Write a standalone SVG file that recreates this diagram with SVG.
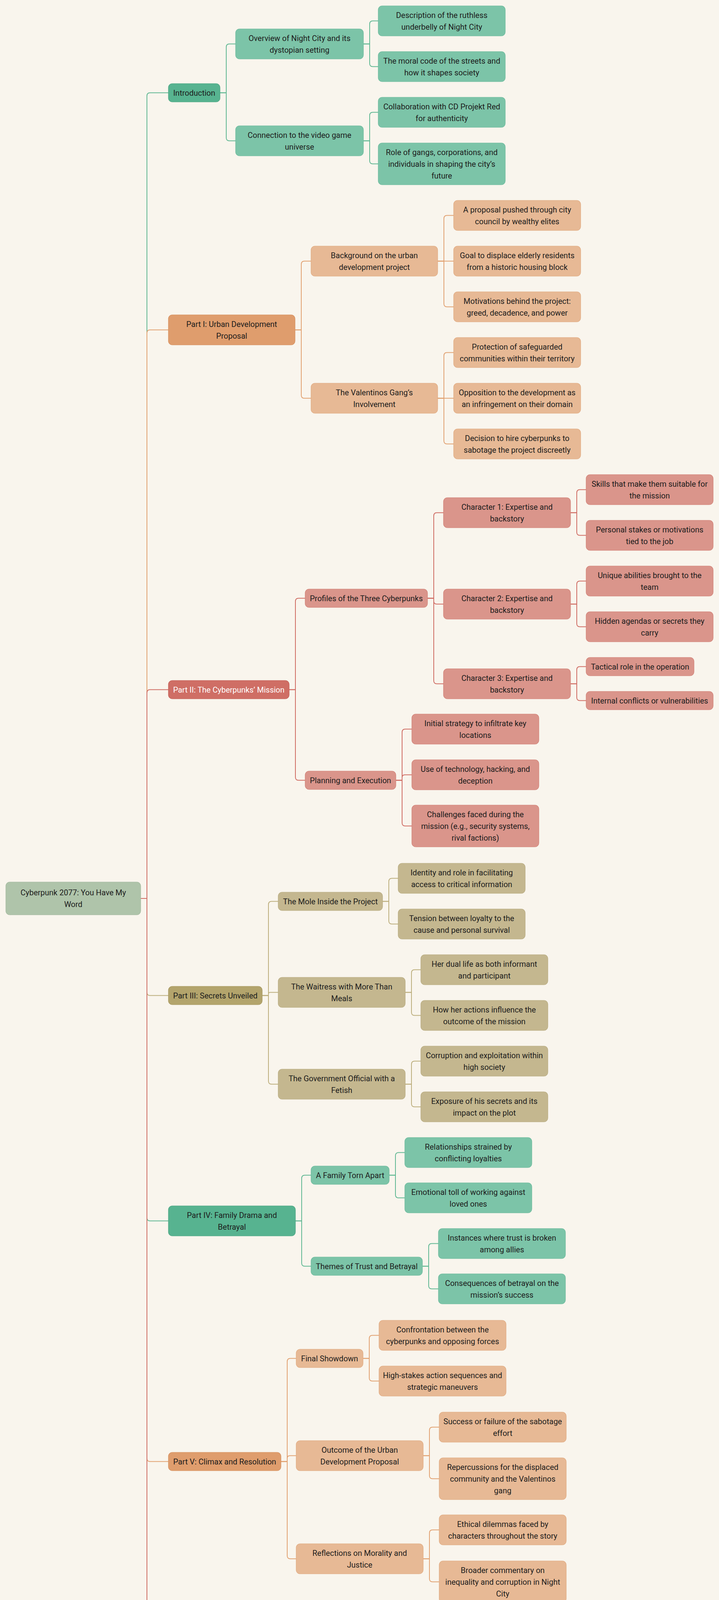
<svg xmlns="http://www.w3.org/2000/svg" width="1840" height="4615" viewBox="0 0 1840 4615">
<style>
.t{font-family:Roboto,"Liberation Sans",sans-serif;font-size:20px;fill:#1c1c1c;text-anchor:middle;dominant-baseline:central}
.tw{fill:#ffffff}
rect{stroke-width:1.2}
.root{fill:#afc4aa;stroke:#a2b89d}
.gm{fill:#57b390;stroke:#4ca582}
.gs{fill:#7cc4a8;stroke:#6cba9c}
.om{fill:#df9d6d;stroke:#d58f5e}
.os{fill:#e7b995;stroke:#e0aa80}
.rm{fill:#cf6e65;stroke:#c35f56}
.rs{fill:#da958b;stroke:#d18076}
.ym{fill:#b3a46c;stroke:#a79860}
.ys{fill:#c4b78f;stroke:#b8ab80}
.c path{fill:none;stroke-width:2}
.lg{stroke:#5fb792}
.lo{stroke:#e1a171}
.lr{stroke:#cf6c63}
.ly{stroke:#bcae7c}
</style>
<rect x="0" y="0" width="1840" height="4615" fill="#f9f5ed" stroke="none"/>
<g id="connectors" class="c">
<path class="lg" d="M360 2300H376V245.5Q376 237.5 384 237.5H431"/>
<path class="lo" d="M360 2300H376V852.5Q376 844.5 384 844.5H431"/>
<path class="lr" d="M360 2300H376V1773.5Q376 1765.5 384 1765.5H431"/>
<path class="ly" d="M360 2300H376V2540.5Q376 2548.5 384 2548.5H431"/>
<path class="lg" d="M360 2300H376V3117.5Q376 3125.5 384 3125.5H431"/>
<path class="lo" d="M360 2300H376V3733.5Q376 3741.5 384 3741.5H431"/>
<path class="lr" d="M360 2300H376V4352.5Q376 4360.5 384 4360.5H431"/>
<path class="lg" d="M563 237.5H579V120.5Q579 112.5 587 112.5H603"/>
<path class="lg" d="M563 237.5H579V352.5Q579 360.5 587 360.5H603"/>
<path class="lg" d="M930 112.5H946V61.5Q946 53.5 954 53.5H968"/>
<path class="lg" d="M930 112.5H946V162.5Q946 170.5 954 170.5H968"/>
<path class="lg" d="M930 360.5H946V295.5Q946 287.5 954 287.5H968"/>
<path class="lg" d="M930 360.5H946V411.5Q946 419.5 954 419.5H968"/>
<path class="lo" d="M755 844.5H771V676.5Q771 668.5 779 668.5H796"/>
<path class="lo" d="M755 844.5H771V1011.5Q771 1019.5 779 1019.5H796"/>
<path class="lo" d="M1120 668.5H1136V559.5Q1136 551.5 1144 551.5H1161"/>
<path class="lo" d="M1120 668.5H1161"/>
<path class="lo" d="M1120 668.5H1136V777.5Q1136 785.5 1144 785.5H1161"/>
<path class="lo" d="M1120 1019.5H1136V910.5Q1136 902.5 1144 902.5H1161"/>
<path class="lo" d="M1120 1019.5H1161"/>
<path class="lo" d="M1120 1019.5H1136V1128.5Q1136 1136.5 1144 1136.5H1161"/>
<path class="lr" d="M740 1765.5H756V1539.5Q756 1531.5 764 1531.5H781"/>
<path class="lr" d="M740 1765.5H756V1989.5Q756 1997.5 764 1997.5H781"/>
<path class="lr" d="M1094 1531.5H1110V1320.5Q1110 1312.5 1118 1312.5H1135"/>
<path class="lr" d="M1094 1531.5H1110V1539Q1110 1546.5 1117.5 1546.5H1135"/>
<path class="lr" d="M1094 1531.5H1110V1742.5Q1110 1750.5 1118 1750.5H1135"/>
<path class="lr" d="M1460 1312.5H1476V1261.5Q1476 1253.5 1484 1253.5H1500"/>
<path class="lr" d="M1460 1312.5H1476V1362.5Q1476 1370.5 1484 1370.5H1500"/>
<path class="lr" d="M1460 1546.5H1476V1495.5Q1476 1487.5 1484 1487.5H1500"/>
<path class="lr" d="M1460 1546.5H1476V1596.5Q1476 1604.5 1484 1604.5H1500"/>
<path class="lr" d="M1460 1750.5H1476V1714.5Q1476 1706.5 1484 1706.5H1500"/>
<path class="lr" d="M1460 1750.5H1476V1785.5Q1476 1793.5 1484 1793.5H1500"/>
<path class="lr" d="M1013 1997.5H1029V1874.5Q1029 1866.5 1037 1866.5H1054"/>
<path class="lr" d="M1013 1997.5H1029V1990.5Q1029 1983.5 1036 1983.5H1054"/>
<path class="lr" d="M1013 1997.5H1029V2106.5Q1029 2114.5 1037 2114.5H1054"/>
<path class="ly" d="M671 2548.5H687V2315.5Q687 2307.5 695 2307.5H712"/>
<path class="ly" d="M671 2548.5H687V2544.5Q687 2540.5 691 2540.5H712"/>
<path class="ly" d="M671 2548.5H687V2767.5Q687 2775.5 695 2775.5H712"/>
<path class="ly" d="M979 2307.5H995V2256.5Q995 2248.5 1003 2248.5H1019"/>
<path class="ly" d="M979 2307.5H995V2357.5Q995 2365.5 1003 2365.5H1019"/>
<path class="ly" d="M1037 2540.5H1053V2490.5Q1053 2482.5 1061 2482.5H1077"/>
<path class="ly" d="M1037 2540.5H1053V2591.5Q1053 2599.5 1061 2599.5H1077"/>
<path class="ly" d="M1037 2775.5H1053V2724.5Q1053 2716.5 1061 2716.5H1077"/>
<path class="ly" d="M1037 2775.5H1053V2825.5Q1053 2833.5 1061 2833.5H1077"/>
<path class="lg" d="M756 3125.5H772V3016.5Q772 3008.5 780 3008.5H796"/>
<path class="lg" d="M756 3125.5H772V3233.5Q772 3241.5 780 3241.5H796"/>
<path class="lg" d="M996 3008.5H1012V2958.5Q1012 2950.5 1020 2950.5H1036"/>
<path class="lg" d="M996 3008.5H1012V3058.5Q1012 3066.5 1020 3066.5H1036"/>
<path class="lg" d="M1081 3241.5H1097V3191.5Q1097 3183.5 1105 3183.5H1122"/>
<path class="lg" d="M1081 3241.5H1097V3291.5Q1097 3299.5 1105 3299.5H1122"/>
<path class="lo" d="M719 3741.5H735V3485.5Q735 3477.5 743 3477.5H758"/>
<path class="lo" d="M719 3741.5H735V3733.5Q735 3726.5 742 3726.5H758"/>
<path class="lo" d="M719 3741.5H735V3982.5Q735 3990.5 743 3990.5H758"/>
<path class="lo" d="M929 3477.5H945V3426.5Q945 3418.5 953 3418.5H970"/>
<path class="lo" d="M929 3477.5H945V3527.5Q945 3535.5 953 3535.5H970"/>
<path class="lo" d="M1083 3726.5H1099V3661.5Q1099 3653.5 1107 3653.5H1124"/>
<path class="lo" d="M1083 3726.5H1099V3777.5Q1099 3785.5 1107 3785.5H1124"/>
<path class="lo" d="M1083 3990.5H1099V3924.5Q1099 3916.5 1107 3916.5H1124"/>
<path class="lo" d="M1083 3990.5H1099V4041.5Q1099 4049.5 1107 4049.5H1124"/>
<path class="lr" d="M532 4360.5H548V4245.5Q548 4237.5 556 4237.5H572"/>
<path class="lr" d="M532 4360.5H548V4474.5Q548 4482.5 556 4482.5H572"/>
<path class="lr" d="M808 4237.5H824V4187.5Q824 4179.5 832 4179.5H847"/>
<path class="lr" d="M808 4237.5H824V4287.5Q824 4295.5 832 4295.5H847"/>
<path class="lr" d="M826 4482.5H842V4418.5Q842 4410.5 850 4410.5H866"/>
<path class="lr" d="M826 4482.5H842V4533.5Q842 4541.5 850 4541.5H866"/>
</g>

<g id="root"><rect class="root" x="15" y="2258" width="345" height="84" rx="10"/><text class="t"><tspan x="187.5" y="2285">Cyberpunk 2077: You Have My</tspan><tspan x="187.5" y="2315">Word</tspan></text></g>

<g id="intro"><rect class="gm" x="431" y="214" width="132" height="47" rx="10"/><text class="t" x="497" y="237.5">Introduction</text></g>
<g id="overview"><rect class="gs" x="603" y="74" width="327" height="77" rx="10"/><text class="t"><tspan x="766.5" y="97.5">Overview of Night City and its</tspan><tspan x="766.5" y="127.5">dystopian setting</tspan></text></g>
<g id="description"><rect class="gs" x="968" y="15" width="325" height="77" rx="10"/><text class="t"><tspan x="1130.5" y="38.5">Description of the ruthless</tspan><tspan x="1130.5" y="68.5">underbelly of Night City</tspan></text></g>
<g id="moral"><rect class="gs" x="968" y="132" width="325" height="77" rx="10"/><text class="t"><tspan x="1130.5" y="155.5">The moral code of the streets and</tspan><tspan x="1130.5" y="185.5">how it shapes society</tspan></text></g>
<g id="connection"><rect class="gs" x="603" y="322" width="327" height="77" rx="10"/><text class="t"><tspan x="766.5" y="345.5">Connection to the video game</tspan><tspan x="766.5" y="375.5">universe</tspan></text></g>
<g id="collaboration"><rect class="gs" x="968" y="249" width="325" height="77" rx="10"/><text class="t"><tspan x="1130.5" y="272.5">Collaboration with CD Projekt Red</tspan><tspan x="1130.5" y="302.5">for authenticity</tspan></text></g>
<g id="role"><rect class="gs" x="968" y="366" width="325" height="107" rx="10"/><text class="t"><tspan x="1130.5" y="389.5">Role of gangs, corporations, and</tspan><tspan x="1130.5" y="419.5">individuals in shaping the city’s</tspan><tspan x="1130.5" y="449.5">future</tspan></text></g>

<g id="part1"><rect class="om" x="431" y="806" width="324" height="77" rx="10"/><text class="t"><tspan x="593" y="829.5">Part I: Urban Development</tspan><tspan x="593" y="859.5">Proposal</tspan></text></g>
<g id="background"><rect class="os" x="796" y="630" width="324" height="77" rx="10"/><text class="t"><tspan x="958" y="653.5">Background on the urban</tspan><tspan x="958" y="683.5">development project</tspan></text></g>
<g id="proposal"><rect class="os" x="1161" y="513" width="325" height="77" rx="10"/><text class="t"><tspan x="1323.5" y="536.5">A proposal pushed through city</tspan><tspan x="1323.5" y="566.5">council by wealthy elites</tspan></text></g>
<g id="goal"><rect class="os" x="1161" y="630" width="325" height="77" rx="10"/><text class="t"><tspan x="1323.5" y="653.5">Goal to displace elderly residents</tspan><tspan x="1323.5" y="683.5">from a historic housing block</tspan></text></g>
<g id="motivations"><rect class="os" x="1161" y="747" width="325" height="77" rx="10"/><text class="t"><tspan x="1323.5" y="770.5">Motivations behind the project:</tspan><tspan x="1323.5" y="800.5">greed, decadence, and power</tspan></text></g>
<g id="valentinos"><rect class="os" x="796" y="981" width="324" height="77" rx="10"/><text class="t"><tspan x="958" y="1004.5">The Valentinos Gang’s</tspan><tspan x="958" y="1034.5">Involvement</tspan></text></g>
<g id="protection"><rect class="os" x="1161" y="864" width="325" height="77" rx="10"/><text class="t"><tspan x="1323.5" y="887.5">Protection of safeguarded</tspan><tspan x="1323.5" y="917.5">communities within their territory</tspan></text></g>
<g id="opposition"><rect class="os" x="1161" y="981" width="325" height="77" rx="10"/><text class="t"><tspan x="1323.5" y="1004.5">Opposition to the development as</tspan><tspan x="1323.5" y="1034.5">an infringement on their domain</tspan></text></g>
<g id="decision"><rect class="os" x="1161" y="1098" width="325" height="77" rx="10"/><text class="t"><tspan x="1323.5" y="1121.5">Decision to hire cyberpunks to</tspan><tspan x="1323.5" y="1151.5">sabotage the project discreetly</tspan></text></g>

<g id="part2"><rect class="rm" x="431" y="1742" width="309" height="47" rx="10"/><text class="t tw" x="585.5" y="1765.5">Part II: The Cyberpunks’ Mission</text></g>
<g id="profiles"><rect class="rs" x="781" y="1508" width="313" height="47" rx="10"/><text class="t" x="937.5" y="1531.5">Profiles of the Three Cyberpunks</text></g>
<g id="char1"><rect class="rs" x="1135" y="1274" width="325" height="77" rx="10"/><text class="t"><tspan x="1297.5" y="1297.5">Character 1: Expertise and</tspan><tspan x="1297.5" y="1327.5">backstory</tspan></text></g>
<g id="skills"><rect class="rs" x="1500" y="1215" width="325" height="77" rx="10"/><text class="t"><tspan x="1662.5" y="1238.5">Skills that make them suitable for</tspan><tspan x="1662.5" y="1268.5">the mission</tspan></text></g>
<g id="personal"><rect class="rs" x="1500" y="1332" width="325" height="77" rx="10"/><text class="t"><tspan x="1662.5" y="1355.5">Personal stakes or motivations</tspan><tspan x="1662.5" y="1385.5">tied to the job</tspan></text></g>
<g id="char2"><rect class="rs" x="1135" y="1508" width="325" height="77" rx="10"/><text class="t"><tspan x="1297.5" y="1531.5">Character 2: Expertise and</tspan><tspan x="1297.5" y="1561.5">backstory</tspan></text></g>
<g id="unique"><rect class="rs" x="1500" y="1449" width="325" height="77" rx="10"/><text class="t"><tspan x="1662.5" y="1472.5">Unique abilities brought to the</tspan><tspan x="1662.5" y="1502.5">team</tspan></text></g>
<g id="hidden"><rect class="rs" x="1500" y="1566" width="325" height="77" rx="10"/><text class="t"><tspan x="1662.5" y="1589.5">Hidden agendas or secrets they</tspan><tspan x="1662.5" y="1619.5">carry</tspan></text></g>
<g id="char3"><rect class="rs" x="1135" y="1712" width="325" height="77" rx="10"/><text class="t"><tspan x="1297.5" y="1735.5">Character 3: Expertise and</tspan><tspan x="1297.5" y="1765.5">backstory</tspan></text></g>
<g id="tactical"><rect class="rs" x="1500" y="1683" width="276" height="47" rx="10"/><text class="t" x="1638" y="1706.5">Tactical role in the operation</text></g>
<g id="internal"><rect class="rs" x="1500" y="1770" width="325" height="47" rx="10"/><text class="t" x="1662.5" y="1793.5">Internal conflicts or vulnerabilities</text></g>
<g id="planning"><rect class="rs" x="781" y="1974" width="232" height="47" rx="10"/><text class="t" x="897" y="1997.5">Planning and Execution</text></g>
<g id="initial"><rect class="rs" x="1054" y="1828" width="325" height="77" rx="10"/><text class="t"><tspan x="1216.5" y="1851.5">Initial strategy to infiltrate key</tspan><tspan x="1216.5" y="1881.5">locations</tspan></text></g>
<g id="technology"><rect class="rs" x="1054" y="1945" width="325" height="77" rx="10"/><text class="t"><tspan x="1216.5" y="1968.5">Use of technology, hacking, and</tspan><tspan x="1216.5" y="1998.5">deception</tspan></text></g>
<g id="challenges"><rect class="rs" x="1054" y="2061" width="325" height="107" rx="10"/><text class="t"><tspan x="1216.5" y="2084.5">Challenges faced during the</tspan><tspan x="1216.5" y="2114.5">mission (e.g., security systems,</tspan><tspan x="1216.5" y="2144.5">rival factions)</tspan></text></g>

<g id="part3"><rect class="ym" x="431" y="2525" width="240" height="47" rx="10"/><text class="t" x="551" y="2548.5">Part III: Secrets Unveiled</text></g>
<g id="mole"><rect class="ys" x="712" y="2284" width="267" height="47" rx="10"/><text class="t" x="845.5" y="2307.5">The Mole Inside the Project</text></g>
<g id="identity"><rect class="ys" x="1019" y="2210" width="325" height="77" rx="10"/><text class="t"><tspan x="1181.5" y="2233.5">Identity and role in facilitating</tspan><tspan x="1181.5" y="2263.5">access to critical information</tspan></text></g>
<g id="tension"><rect class="ys" x="1019" y="2327" width="325" height="77" rx="10"/><text class="t"><tspan x="1181.5" y="2350.5">Tension between loyalty to the</tspan><tspan x="1181.5" y="2380.5">cause and personal survival</tspan></text></g>
<g id="waitress"><rect class="ys" x="712" y="2502" width="325" height="77" rx="10"/><text class="t"><tspan x="874.5" y="2525.5">The Waitress with More Than</tspan><tspan x="874.5" y="2555.5">Meals</tspan></text></g>
<g id="duallife"><rect class="ys" x="1077" y="2444" width="325" height="77" rx="10"/><text class="t"><tspan x="1239.5" y="2467.5">Her dual life as both informant</tspan><tspan x="1239.5" y="2497.5">and participant</tspan></text></g>
<g id="howher"><rect class="ys" x="1077" y="2561" width="325" height="77" rx="10"/><text class="t"><tspan x="1239.5" y="2584.5">How her actions influence the</tspan><tspan x="1239.5" y="2614.5">outcome of the mission</tspan></text></g>
<g id="official"><rect class="ys" x="712" y="2737" width="325" height="77" rx="10"/><text class="t"><tspan x="874.5" y="2760.5">The Government Official with a</tspan><tspan x="874.5" y="2790.5">Fetish</tspan></text></g>
<g id="corruption"><rect class="ys" x="1077" y="2678" width="325" height="77" rx="10"/><text class="t"><tspan x="1239.5" y="2701.5">Corruption and exploitation within</tspan><tspan x="1239.5" y="2731.5">high society</tspan></text></g>
<g id="exposure"><rect class="ys" x="1077" y="2795" width="325" height="77" rx="10"/><text class="t"><tspan x="1239.5" y="2818.5">Exposure of his secrets and its</tspan><tspan x="1239.5" y="2848.5">impact on the plot</tspan></text></g>

<g id="part4"><rect class="gm" x="431" y="3087" width="325" height="77" rx="10"/><text class="t"><tspan x="593.5" y="3110.5">Part IV: Family Drama and</tspan><tspan x="593.5" y="3140.5">Betrayal</tspan></text></g>
<g id="family"><rect class="gs" x="796" y="2985" width="200" height="47" rx="10"/><text class="t" x="896" y="3008.5">A Family Torn Apart</text></g>
<g id="relationships"><rect class="gs" x="1036" y="2912" width="325" height="77" rx="10"/><text class="t"><tspan x="1198.5" y="2935.5">Relationships strained by</tspan><tspan x="1198.5" y="2965.5">conflicting loyalties</tspan></text></g>
<g id="emotional"><rect class="gs" x="1036" y="3028" width="325" height="77" rx="10"/><text class="t"><tspan x="1198.5" y="3051.5">Emotional toll of working against</tspan><tspan x="1198.5" y="3081.5">loved ones</tspan></text></g>
<g id="themes"><rect class="gs" x="796" y="3218" width="285" height="47" rx="10"/><text class="t" x="938.5" y="3241.5">Themes of Trust and Betrayal</text></g>
<g id="instances"><rect class="gs" x="1122" y="3145" width="325" height="77" rx="10"/><text class="t"><tspan x="1284.5" y="3168.5">Instances where trust is broken</tspan><tspan x="1284.5" y="3198.5">among allies</tspan></text></g>
<g id="consequences"><rect class="gs" x="1122" y="3261" width="325" height="77" rx="10"/><text class="t"><tspan x="1284.5" y="3284.5">Consequences of betrayal on the</tspan><tspan x="1284.5" y="3314.5">mission’s success</tspan></text></g>

<g id="part5"><rect class="om" x="431" y="3718" width="288" height="47" rx="10"/><text class="t" x="575" y="3741.5">Part V: Climax and Resolution</text></g>
<g id="showdown"><rect class="os" x="758" y="3454" width="171" height="47" rx="10"/><text class="t" x="843.5" y="3477.5">Final Showdown</text></g>
<g id="confrontation"><rect class="os" x="970" y="3380" width="325" height="77" rx="10"/><text class="t"><tspan x="1132.5" y="3403.5">Confrontation between the</tspan><tspan x="1132.5" y="3433.5">cyberpunks and opposing forces</tspan></text></g>
<g id="highstakes"><rect class="os" x="970" y="3497" width="325" height="77" rx="10"/><text class="t"><tspan x="1132.5" y="3520.5">High-stakes action sequences and</tspan><tspan x="1132.5" y="3550.5">strategic maneuvers</tspan></text></g>
<g id="outcome"><rect class="os" x="758" y="3688" width="325" height="77" rx="10"/><text class="t"><tspan x="920.5" y="3711.5">Outcome of the Urban</tspan><tspan x="920.5" y="3741.5">Development Proposal</tspan></text></g>
<g id="success"><rect class="os" x="1124" y="3615" width="325" height="77" rx="10"/><text class="t"><tspan x="1286.5" y="3638.5">Success or failure of the sabotage</tspan><tspan x="1286.5" y="3668.5">effort</tspan></text></g>
<g id="repercussions"><rect class="os" x="1124" y="3732" width="325" height="107" rx="10"/><text class="t"><tspan x="1286.5" y="3755.5">Repercussions for the displaced</tspan><tspan x="1286.5" y="3785.5">community and the Valentinos</tspan><tspan x="1286.5" y="3815.5">gang</tspan></text></g>
<g id="reflections"><rect class="os" x="758" y="3952" width="325" height="77" rx="10"/><text class="t"><tspan x="920.5" y="3975.5">Reflections on Morality and</tspan><tspan x="920.5" y="4005.5">Justice</tspan></text></g>
<g id="ethical"><rect class="os" x="1124" y="3878" width="325" height="77" rx="10"/><text class="t"><tspan x="1286.5" y="3901.5">Ethical dilemmas faced by</tspan><tspan x="1286.5" y="3931.5">characters throughout the story</tspan></text></g>
<g id="broader"><rect class="os" x="1124" y="3996" width="325" height="107" rx="10"/><text class="t"><tspan x="1286.5" y="4019.5">Broader commentary on</tspan><tspan x="1286.5" y="4049.5">inequality and corruption in Night</tspan><tspan x="1286.5" y="4079.5">City</tspan></text></g>

<g id="epilogue"><rect class="rm" x="431" y="4337" width="101" height="47" rx="10"/><text class="t tw" x="481.5" y="4360.5">Epilogue</text></g>
<g id="aftermath"><rect class="rs" x="572" y="4214" width="236" height="47" rx="10"/><text class="t" x="690" y="4237.5">Aftermath of the Events</text></g>
<g id="longterm"><rect class="rs" x="847" y="4141" width="325" height="77" rx="10"/><text class="t"><tspan x="1009.5" y="4164.5">Long-term effects on the main</tspan><tspan x="1009.5" y="4194.5">characters and their relationships</tspan></text></g>
<g id="changes"><rect class="rs" x="847" y="4257" width="325" height="77" rx="10"/><text class="t"><tspan x="1009.5" y="4280.5">Changes in the political and social</tspan><tspan x="1009.5" y="4310.5">landscape of Night City</tspan></text></g>
<g id="teasers"><rect class="rs" x="572" y="4459" width="254" height="47" rx="10"/><text class="t" x="699" y="4482.5">Teasers for Future Stories</text></g>
<g id="hints"><rect class="rs" x="866" y="4372" width="325" height="77" rx="10"/><text class="t"><tspan x="1028.5" y="4395.5">Hints at unresolved tensions or</tspan><tspan x="1028.5" y="4425.5">new threats emerging</tspan></text></g>
<g id="potential"><rect class="rs" x="866" y="4488" width="325" height="107" rx="10"/><text class="t"><tspan x="1028.5" y="4511.5">Potential connections to other</tspan><tspan x="1028.5" y="4541.5">media in the Cyberpunk 2077</tspan><tspan x="1028.5" y="4571.5">franchise</tspan></text></g>
</svg>
